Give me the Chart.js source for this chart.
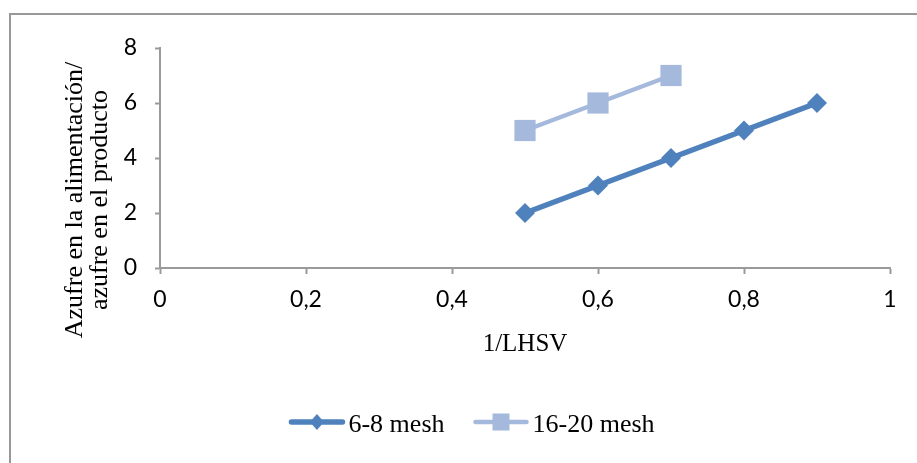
<!DOCTYPE html>
<html>
<head>
<meta charset="utf-8">
<script src="https://cdn.jsdelivr.net/npm/chart.js@4"></script>
<style>
  body { margin: 0; background: #fff; }
  #wrap { width: 917px; height: 463px; }
</style>
</head>
<body>
<div id="wrap"><canvas id="myChart" width="917" height="463"></canvas></div>
<script>
// data
const seriesNames = ["6-8 mesh", "16-20 mesh"];
const lhsv68 = [0.5, 0.6, 0.7, 0.8, 0.9];
const ratio68 = [2, 3, 4, 5, 6];
const lhsv1620 = [0.5, 0.6, 0.7];
const ratio1620 = [5, 6, 7];
const xTicks = [0, 0.2, 0.4, 0.6, 0.8, 1];
const yTicks = [0, 2, 4, 6, 8];
const xTitle = "1/LHSV";
const yTitle = ["Azufre en la alimentación/", "azufre en el producto"];

const toPoints = (xs, ys) => xs.map((x, i) => ({ x: x, y: ys[i] }));

const serif = "'Liberation Serif', 'Times New Roman', serif";
const sans = "Lato, 'Open Sans', sans-serif";
const axisGray = "#9a9a9a";

// chart frame, y title and legend are drawn by hand like the Excel original
const decorations = {
  id: "decorations",
  beforeDraw(chart) {
    const ctx = chart.ctx;
    ctx.save();
    ctx.strokeStyle = "#999";
    ctx.lineWidth = 2;
    ctx.strokeRect(10, 14, 1000, 1000);
    ctx.restore();
  },
  afterDraw(chart) {
    const ctx = chart.ctx;
    ctx.save();
    ctx.fillStyle = "#000";
    ctx.font = "26px " + serif;
    ctx.textAlign = "center";
    ctx.textBaseline = "middle";
    ctx.translate(75, 200);
    ctx.rotate(-Math.PI / 2);
    yTitle.forEach((line, i) => ctx.fillText(line, 0, i * 25));
    ctx.restore();

    // legend
    ctx.save();
    ctx.font = "26px " + serif;
    ctx.textBaseline = "middle";
    const lineLen = 55, gapText = 4, gapItem = 29;
    const items = chart.data.datasets.map((ds) => ({
      ds: ds,
      w: lineLen + gapText + ctx.measureText(ds.label).width,
    }));
    const total = items.reduce((s, it) => s + it.w, 0) + gapItem * (items.length - 1);
    let x = 472 - total / 2;
    const y = 422;
    items.forEach((it) => {
      const ds = it.ds;
      ctx.strokeStyle = ds.borderColor;
      ctx.fillStyle = ds.backgroundColor;
      ctx.lineWidth = ds.borderWidth;
      ctx.lineCap = "round";
      ctx.beginPath();
      ctx.moveTo(x + 2, y);
      ctx.lineTo(x + lineLen - 2, y);
      ctx.stroke();
      const cx = x + lineLen / 2;
      ctx.beginPath();
      if (ds.pointStyle === "rectRot") {
        ctx.moveTo(cx, y - 8);
        ctx.lineTo(cx + 7, y);
        ctx.lineTo(cx, y + 8);
        ctx.lineTo(cx - 7, y);
        ctx.closePath();
      } else {
        ctx.rect(cx - 8.5, y - 8.5, 17, 17);
      }
      ctx.fill();
      ctx.fillStyle = "#000";
      ctx.fillText(ds.label, x + lineLen + gapText, y + 3);
      x += it.w + gapItem;
    });
    ctx.restore();
  },
};

new Chart("myChart", {
  type: "line",
  data: {
    datasets: [
      {
        label: seriesNames[0],
        data: toPoints(lhsv68, ratio68),
        borderColor: "#4f81bd",
        backgroundColor: "#4f81bd",
        borderWidth: 5.5,
        pointStyle: "rectRot",
        pointRadius: 10,
        pointHoverRadius: 10,
        pointBorderWidth: 0,
        tension: 0,
      },
      {
        label: seriesNames[1],
        data: toPoints(lhsv1620, ratio1620),
        borderColor: "#a5b9dc",
        backgroundColor: "#a5b9dc",
        borderWidth: 4.5,
        pointStyle: "rect",
        pointRadius: 15,
        pointHoverRadius: 15,
        pointBorderWidth: 0,
        tension: 0,
      },
    ],
  },
  options: {
    responsive: false,
    animation: false,
    layout: { padding: { left: 0, top: 48, right: 27, bottom: 0 } },
    plugins: {
      legend: { display: false },
      tooltip: { enabled: false },
    },
    scales: {
      x: {
        type: "linear",
        min: 0,
        max: 1,
        afterBuildTicks: (scale) => {
          scale.ticks = xTicks.map((v) => ({ value: v }));
        },
        afterFit: (scale) => {
          scale.height = 195;
        },
        ticks: {
          color: "#000",
          font: { family: sans, size: 23 },
          padding: 12,
          callback: (v) => String(v).replace(".", ","),
        },
        grid: {
          drawOnChartArea: false,
          drawTicks: true,
          tickLength: 6,
          tickWidth: 2,
          tickColor: axisGray,
        },
        border: { color: axisGray, width: 2 },
        title: {
          display: true,
          text: xTitle,
          color: "#000",
          font: { family: serif, size: 25, lineHeight: 1.2 },
          padding: { top: 0, bottom: 104 },
        },
      },
      y: {
        min: 0,
        max: 8,
        afterBuildTicks: (scale) => {
          scale.ticks = yTicks.map((v) => ({ value: v }));
        },
        afterFit: (scale) => {
          scale.width = 160;
        },
        ticks: {
          color: "#000",
          font: { family: sans, size: 23 },
          padding: 18,
        },
        grid: {
          drawOnChartArea: false,
          drawTicks: true,
          tickLength: 5,
          tickWidth: 2,
          tickColor: axisGray,
        },
        border: { color: axisGray, width: 2 },
      },
    },
  },
  plugins: [decorations],
});
</script>
</body>
</html>
